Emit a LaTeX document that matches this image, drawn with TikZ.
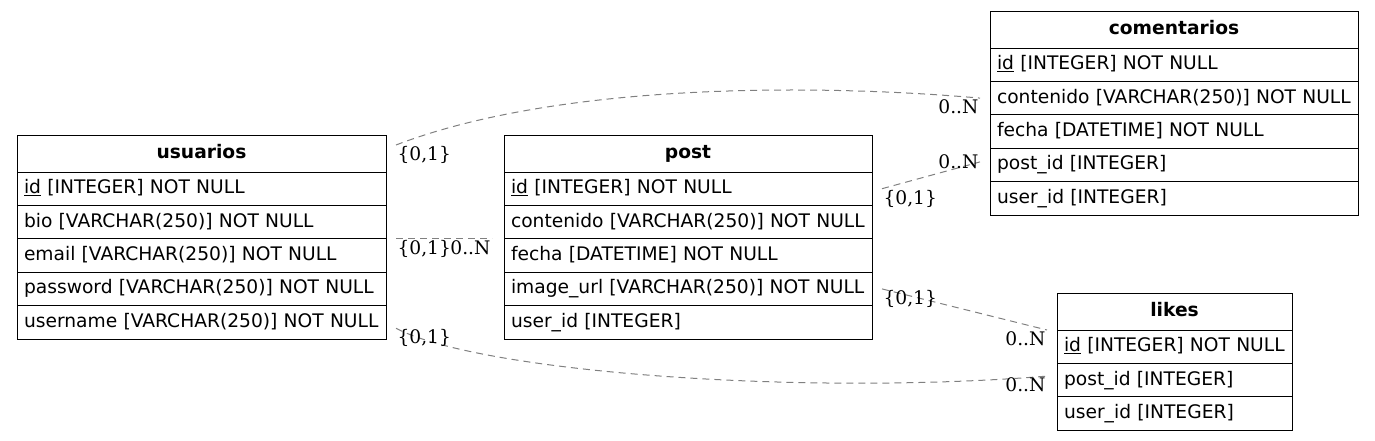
\documentclass[tikz,border=0pt]{standalone}
\usepackage{fontspec}
\setmainfont{DejaVu Sans}
\newfontfamily\lblfont{DejaVu Serif}
\usetikzlibrary{positioning}
\definecolor{relgray}{HTML}{808080}

\tikzset{
	thead/.style={draw, line width=1pt, outer sep=0pt, inner xsep=7pt,
		text width=#1, align=center, minimum height=37pt,
		text height=14pt, text depth=4pt,
		font=\fontsize{18.67}{22}\selectfont\bfseries},
	trow/.style={draw, line width=1pt, outer sep=0pt, inner xsep=7pt,
		text width=#1, align=left, minimum height=33.4pt,
		text height=14pt, text depth=4pt,
		font=\fontsize{18.67}{22}\selectfont},
	rel/.style={relgray, line width=1pt, dash pattern=on 7pt off 5pt},
	lbl/.style={inner sep=1pt, text=black, font=\lblfont\fontsize{18.67}{22}\selectfont}
}

\begin{document}
\begin{tikzpicture}[x=1pt, y=-1pt]
	\useasboundingbox (0,0) rectangle (1375,440);

	\node[thead=355pt, anchor=north west] (usr) at (17,135) {usuarios};
	\node[trow=355pt, below=0pt of usr] (usr-id) {\underline{id} [INTEGER] NOT NULL};
	\node[trow=355pt, below=0pt of usr-id] (usr-bio) {bio [VARCHAR(250)] NOT NULL};
	\node[trow=355pt, below=0pt of usr-bio] (usr-email) {email [VARCHAR(250)] NOT NULL};
	\node[trow=355pt, below=0pt of usr-email] (usr-pass) {password [VARCHAR(250)] NOT NULL};
	\node[trow=355pt, below=0pt of usr-pass] (usr-name) {username [VARCHAR(250)] NOT NULL};

	\node[thead=354pt, anchor=north west] (pst) at (504,135) {post};
	\node[trow=354pt, below=0pt of pst] (pst-id) {\underline{id} [INTEGER] NOT NULL};
	\node[trow=354pt, below=0pt of pst-id] (pst-cont) {contenido [VARCHAR(250)] NOT NULL};
	\node[trow=354pt, below=0pt of pst-cont] (pst-fech) {fecha [DATETIME] NOT NULL};
	\node[trow=354pt, below=0pt of pst-fech] (pst-img) {image\_url [VARCHAR(250)] NOT NULL};
	\node[trow=354pt, below=0pt of pst-img] (pst-user) {user\_id [INTEGER]};

	\node[thead=354pt, anchor=north west] (com) at (990,11) {comentarios};
	\node[trow=354pt, below=0pt of com] (com-id) {\underline{id} [INTEGER] NOT NULL};
	\node[trow=354pt, below=0pt of com-id] (com-cont) {contenido [VARCHAR(250)] NOT NULL};
	\node[trow=354pt, below=0pt of com-cont] (com-fech) {fecha [DATETIME] NOT NULL};
	\node[trow=354pt, below=0pt of com-fech] (com-post) {post\_id [INTEGER]};
	\node[trow=354pt, below=0pt of com-post] (com-user) {user\_id [INTEGER]};

	\node[thead=221pt, anchor=north west] (lik) at (1057,293) {likes};
	\node[trow=221pt, below=0pt of lik] (lik-id) {\underline{id} [INTEGER] NOT NULL};
	\node[trow=221pt, below=0pt of lik-id] (lik-post) {post\_id [INTEGER]};
	\node[trow=221pt, below=0pt of lik-post] (lik-user) {user\_id [INTEGER]};

	\draw
		[rel] ([shift={(10,10)}]usr.north east) .. controls (560,82) and (820,84) .. ([xshift=-10pt]com-cont.west)
		node[lbl, pos=0, anchor=north west] (r1a) {\{0,1\}}
		node[lbl, pos=1, anchor=north east] (r1b) {0..N};

	\draw
		[rel] ([xshift=10pt]usr-bio.south east) -- ([xshift=-12pt]pst-cont.south west)
		node[lbl, pos=0, anchor=north west] (r2a) {\{0,1\}}
		node[lbl, pos=1, anchor=north east] (r2b) {0..N};

	\draw
		[rel] ([xshift=10pt]pst-id.east) -- ([shift={(-10,-3)}]com-post.west)
		node[lbl, pos=0, anchor=north west] (r3a) {\{0,1\}}
		node[lbl, pos=1, anchor=east] (r3b) {0..N};

	\draw
		[rel] ([xshift=10pt]pst-img.east) -- ([xshift=-10pt]lik.south west)
		node[lbl, pos=0, anchor=north west] (r4a) {\{0,1\}}
		node[lbl, pos=1, anchor=north east] (r4b) {0..N};

	\draw
		[rel] ([shift={(10,6)}]usr-name.east) .. controls (480,372) and (800,396) .. ([shift={(-10,-4)}]lik-post.west)
		node[lbl, pos=0, anchor=north west] (r5a) {\{0,1\}}
		node[lbl, pos=1, anchor=north east] (r5b) {0..N};
\end{tikzpicture}
\end{document}
